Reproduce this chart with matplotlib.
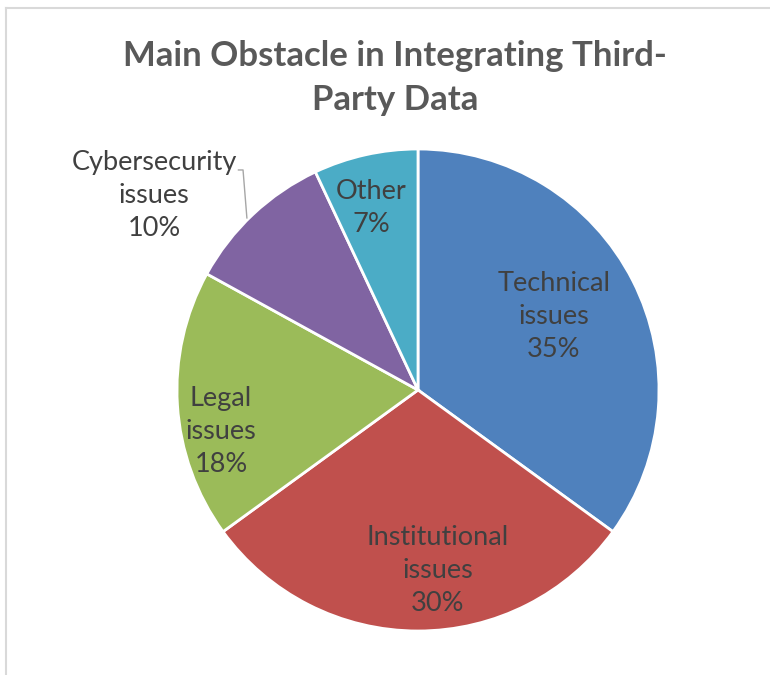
import matplotlib
matplotlib.use("Agg")
from matplotlib import pyplot as plt
from matplotlib.lines import Line2D

# data
categories = ["Technical\nissues", "Institutional\nissues", "Legal\nissues",
              "Cybersecurity\nissues", "Other"]
shares = [35, 30, 18, 10, 7]
colors = ["#4F81BD", "#C0504D", "#9BBB59", "#8064A2", "#4BACC6"]
# label positions (pie units, radius = 1)
label_pos = [(0.564, 0.307), (0.081, -0.751), (-0.817, -0.174),
             (-1.095, 0.809), (-0.195, 0.755)]

plt.rcParams['font.family'] = ['Lato', 'DejaVu Sans']

W, H = 770, 675
fig = plt.figure(figsize=(W / 100, H / 100), dpi=100)

cx, cy, r = 418, 390, 241
ax = fig.add_axes([(cx - r) / W, (H - cy - r) / H, 2 * r / W, 2 * r / H])
wedges, _ = ax.pie(shares, colors=colors, startangle=90, counterclock=False,
                   radius=1, wedgeprops=dict(edgecolor="white", linewidth=2))
ax.set_xlim(-1, 1)
ax.set_ylim(-1, 1)
ax.set_aspect("equal")
ax.axis("off")

for cat, val, (x, y) in zip(categories, shares, label_pos):
    ax.text(x, y, cat + "\n" + f"{val}%", ha="center", va="center",
            fontsize=19.5, color="#404040", linespacing=1.4)

# leader line for cybersecurity label
ax.plot([-0.745, -0.726, -0.710], [0.913, 0.913, 0.714], color="#A6A6A6", lw=1)

fig.text(395 / W, 1 - 78 / H, "Main Obstacle in Integrating Third-\nParty Data",
         ha="center", va="center", fontsize=25, fontweight="bold",
         color="#595959", linespacing=1.43)

# chart border (only top and left visible)
fig.add_artist(Line2D([6 / W, 769 / W], [1 - 8 / H, 1 - 8 / H], color="#D9D9D9", lw=1.5,
                      transform=fig.transFigure))
fig.add_artist(Line2D([6 / W, 6 / W], [1 - 8 / H, 0], color="#D9D9D9", lw=1.5,
                      transform=fig.transFigure))

fig.savefig("out.png", dpi=100)
